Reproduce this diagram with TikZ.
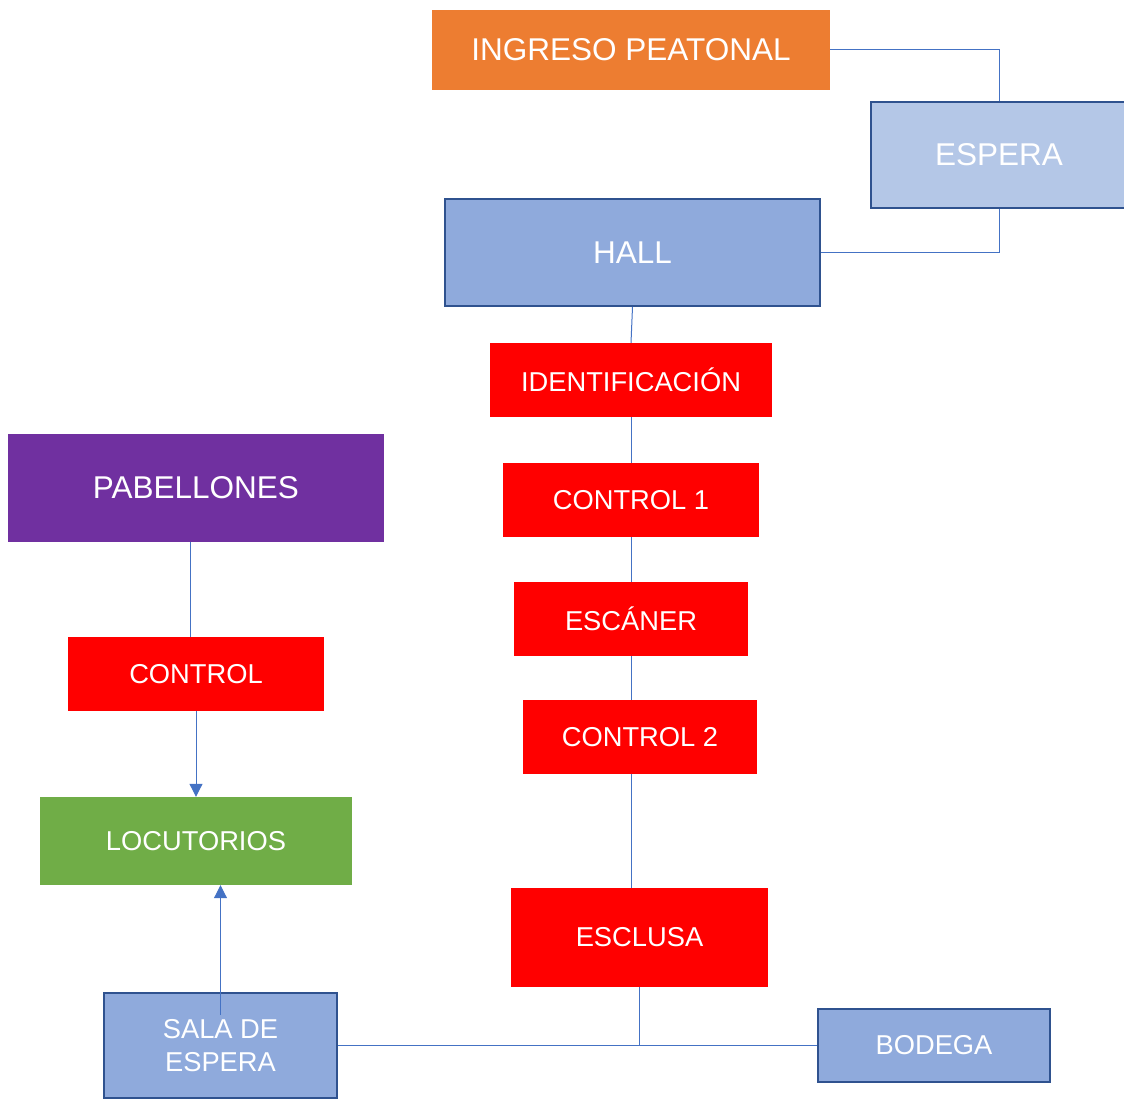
\documentclass[tikz,border=0pt]{standalone}
\usepackage{fontspec}
\setmainfont{Liberation Sans}
\usetikzlibrary{arrows.meta,calc}
\definecolor{cOrange}{HTML}{ED7D31}
\definecolor{cRed}{HTML}{FF0000}
\definecolor{cPurple}{HTML}{7030A0}
\definecolor{cGreen}{HTML}{70AD47}
\definecolor{cBlue}{HTML}{8FAADC}
\definecolor{cLight}{HTML}{B4C7E7}
\definecolor{cBorder}{HTML}{2F528F}
\definecolor{cLine}{HTML}{4472C4}
\tikzset{
  box/.style={rectangle, inner sep=0pt, text=white, align=center},
  bigtxt/.style={font=\fontsize{31.5}{36}\selectfont},
  smalltxt/.style={font=\fontsize{27.3}{33}\selectfont},
  redbox/.style={box, smalltxt, fill=cRed},
  bluebox/.style={box, fill=cBlue, draw=cBorder, line width=2pt},
  conn/.style={draw=cLine, line width=1pt},
  arr/.style={conn, -{Triangle[length=13pt,width=13pt]}}
}
\begin{document}
\begin{tikzpicture}[x=1pt,y=-1pt]
\useasboundingbox (0,0) rectangle (1124,1099);
\begin{scope}
\clip (0,0) rectangle (1124,1099);
\node[box, bigtxt, fill=cOrange, minimum width=398pt, minimum height=80pt] (ingreso) at (631,50) {INGRESO PEATONAL};
\node[bluebox, bigtxt, fill=cLight, minimum width=256pt, minimum height=106pt] (espera) at (999,155) {ESPERA};
\node[bluebox, bigtxt, minimum width=375pt, minimum height=107pt] (hall) at (632.5,252.5) {HALL};
\node[redbox, minimum width=282pt, minimum height=74pt] (ident) at (631,380) {IDENTIFICACIÓN};
\node[redbox, minimum width=256pt, minimum height=74pt] (c1) at (631,500) {CONTROL 1};
\node[redbox, minimum width=234pt, minimum height=74pt] (esc) at (631,619) {ESCÁNER};
\node[redbox, minimum width=234pt, minimum height=74pt] (c2) at (640,737) {CONTROL 2};
\node[redbox, minimum width=257pt, minimum height=99pt] (esclusa) at (639.5,937.5) {ESCLUSA};
\node[box, bigtxt, fill=cPurple, minimum width=376pt, minimum height=108pt] (pab) at (196,488) {PABELLONES};
\node[redbox, minimum width=256pt, minimum height=74pt] (ctrl) at (196,674) {CONTROL};
\node[box, smalltxt, fill=cGreen, minimum width=312pt, minimum height=88pt] (loc) at (196,841) {LOCUTORIOS};
\node[bluebox, smalltxt, minimum width=233pt, minimum height=105pt] (sala) at (220.5,1045.5) {SALA DE\\ESPERA};
\node[bluebox, smalltxt, minimum width=232pt, minimum height=73pt] (bodega) at (934,1045.5) {BODEGA};

\draw[conn] (ingreso.east) -| (espera.north);
\draw[conn] (espera.south) |- (hall.east);
\draw[conn] (hall.south) -- (ident.north);
\draw[conn] (ident.south) -- (c1.north);
\draw[conn] (c1.south) -- (esc.north);
\draw[conn] (esc.south) -- (esc.south |- c2.north);
\draw[conn] (c2.south -| esc.south) -- (esclusa.north -| esc.south);
\draw[conn] (esclusa.south) -- (esclusa.south |- sala.east);
\draw[conn] (sala.east) -- (bodega.west);
\draw[conn] ($(pab.south)+(-6,0)$) -- ($(ctrl.north)+(-6,0)$);
\draw[arr] (ctrl.south) -- (loc.north);
\coordinate (salatop) at ($(sala.center)+(0,-30.5)$);
\draw[arr] (salatop) -- (loc.south -| salatop);
\end{scope}
\end{tikzpicture}
\end{document}
